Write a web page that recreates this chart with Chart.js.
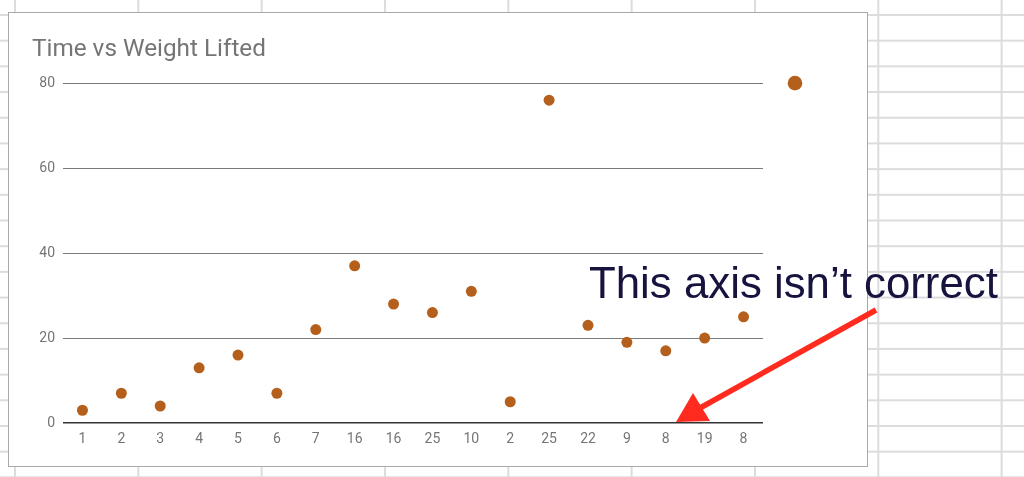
<!DOCTYPE html>
<html>
<head>
<meta charset="utf-8">
<script src="https://cdn.jsdelivr.net/npm/chart.js@4.4.0/dist/chart.umd.min.js"></script>
<style>
  html, body { margin: 0; padding: 0; }
  body {
    width: 1024px; height: 477px; overflow: hidden; position: relative;
    background-color: #fff;
    background-image: linear-gradient(to right, #dcdcdc 2px, transparent 2px),
                      linear-gradient(to bottom, #dcdcdc 2px, transparent 2px);
    background-size: 123.33px 100%, 100% 25.7px;
    background-position: 14px 0, 0 14px;
  }
  #box {
    position: absolute; left: 8px; top: 12px; width: 860px; height: 455px;
    box-sizing: border-box; border: 1px solid #a9a9a9; background: #fff;
  }
  #note { position: absolute; left: 0; top: 0; pointer-events: none; }
</style>
</head>
<body>
<div id="box"><canvas id="mycanvas"></canvas></div>
<svg id="note" width="1024" height="477">
  <text x="589" y="298" font-family="Liberation Sans, Arial, sans-serif" font-size="43.8" fill="#17133f">This axis isn’t correct</text>
  <line x1="876" y1="310" x2="700" y2="408" stroke="#ff2b1f" stroke-width="5.5"/>
  <polygon points="676,422 693,393 710,421" fill="#ff2b1f"/>
</svg>
<script>
var timeLabels = ['1', '2', '3', '4', '5', '6', '7', '16', '16', '25', '10', '2', '25', '22', '9', '8', '19', '8'];
var weightLifted = [3, 7, 4, 13, 16, 7, 22, 37, 28, 26, 31, 5, 76, 23, 19, 17, 20, 25];
var yTicks = [0, 20, 40, 60, 80];

var dotColor = '#b4601c';

// lone legend marker to the right of the plot
var legendDot = {
  id: 'legendDot',
  afterDraw: function(chart) {
    var ctx = chart.ctx;
    var y = chart.scales.y.getPixelForValue(yTicks[yTicks.length - 1]);
    ctx.save();
    ctx.fillStyle = dotColor;
    ctx.beginPath();
    ctx.arc(chart.chartArea.right + 32, y, 7.3, 0, Math.PI * 2);
    ctx.fill();
    ctx.restore();
  }
};

var ctx = document.getElementById('mycanvas');
var chart = new Chart(ctx, {
  type: 'line',
  data: {
    labels: timeLabels,
    datasets: [{
      label: 'Weight Lifted',
      data: weightLifted,
      showLine: false,
      pointRadius: 5.5,
      pointHoverRadius: 5.5,
      pointBackgroundColor: dotColor,
      pointBorderWidth: 0,
      borderColor: dotColor
    }]
  },
  plugins: [legendDot],
  options: {
    responsive: true,
    maintainAspectRatio: false,
    animation: false,
    layout: { padding: { left: 23, right: 104, top: 22, bottom: 0 } },
    plugins: {
      legend: { display: false },
      tooltip: { enabled: false },
      title: {
        display: true,
        text: 'Time vs Weight Lifted',
        align: 'start',
        color: '#757575',
        font: { family: 'Roboto', size: 24.3, weight: 'normal' },
        padding: { top: 0, bottom: 19 }
      }
    },
    scales: {
      x: {
        offset: true,
        grid: { display: false, drawTicks: false },
        border: { display: false },
        ticks: {
          color: '#757575',
          padding: 8,
          maxRotation: 0,
          autoSkip: false,
          font: { family: 'Roboto', size: 14 }
        },
        afterFit: function(scale) { scale.height = 43; }
      },
      y: {
        min: 0,
        max: 80,
        afterBuildTicks: function(scale) {
          scale.ticks = yTicks.map(function(v) { return { value: v }; });
        },
        grid: {
          drawTicks: false,
          color: function(c) { return c.tick && c.tick.value === 0 ? '#333333' : '#7a7a7a'; },
          lineWidth: function(c) { return c.tick && c.tick.value === 0 ? 1.5 : 1; }
        },
        border: { display: false },
        ticks: {
          color: '#757575',
          padding: 8,
          font: { family: 'Roboto', size: 14 }
        },
        afterFit: function(scale) { scale.width = 31; }
      }
    }
  }
});
</script>
</body>
</html>
